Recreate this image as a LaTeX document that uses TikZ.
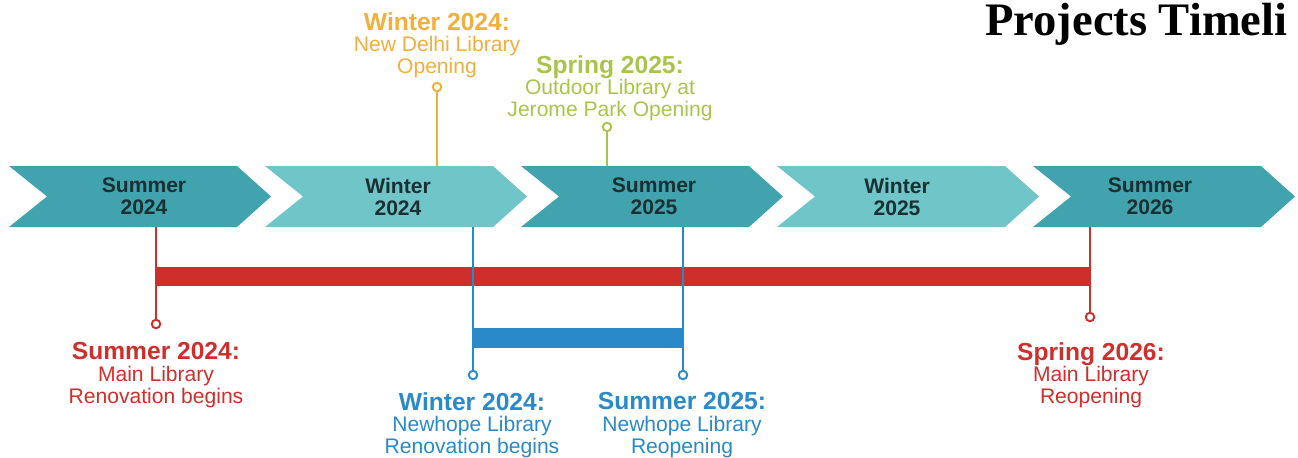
\documentclass[tikz,border=0pt]{standalone}
\usepackage{fontspec}
\setmainfont{Liberation Sans}
\newfontfamily\titlefont{Liberation Serif}
\usepackage{xcolor}
\usetikzlibrary{positioning}
\definecolor{tealdark}{HTML}{40A3AE}
\definecolor{teallight}{HTML}{70C5C8}
\definecolor{seasontext}{HTML}{1B3033}
\definecolor{mainred}{HTML}{CF2F2C}
\definecolor{newblue}{HTML}{2A89C9}
\definecolor{delhiorange}{HTML}{F4AE3D}
\definecolor{parkgreen}{HTML}{A8C54A}

\begin{document}
\begin{tikzpicture}[x=0.02cm, y=-0.02cm]
    % Styles
    \tikzstyle{season} = [inner sep=0pt, minimum height=1.22cm, align=center, text=seasontext, font=\fontsize{12}{12.5}\selectfont\bfseries]
    \tikzstyle{pin} = [circle, draw, fill=white, inner sep=0pt, minimum size=0.17cm, line width=1.1pt]
    \tikzstyle{stem} = [line width=1.1pt]
    \tikzstyle{event} = [inner sep=0pt, align=center, font=\fontsize{12}{12.3}\selectfont]

    \useasboundingbox (0,0) rectangle (1298,457);

    % Chevrons
    \fill[tealdark]  (9,166) -- (237,166) -- (271,196.5) -- (237,227) -- (9,227) -- (47,196.5) -- cycle;
    \fill[teallight] (265,166) -- (493,166) -- (527,196.5) -- (493,227) -- (265,227) -- (303,196.5) -- cycle;
    \fill[tealdark]  (521,166) -- (749,166) -- (783,196.5) -- (749,227) -- (521,227) -- (559,196.5) -- cycle;
    \fill[teallight] (777,166) -- (1005,166) -- (1039,196.5) -- (1005,227) -- (777,227) -- (815,196.5) -- cycle;
    \fill[tealdark]  (1033,166) -- (1261,166) -- (1295,196.5) -- (1261,227) -- (1033,227) -- (1071,196.5) -- cycle;

    % Seasons
    \node[season] (sum24) at (144,196.5) {Summer\\2024};
    \node[season] (win24) at (398,196.5) {Winter\\2024};
    \node[season] (sum25) at (654,196.5) {Summer\\2025};
    \node[season] (win25) at (897,196.5) {Winter\\2025};
    \node[season] (sum26) at (1150,196.5) {Summer\\2026};

    % Title
    \node[anchor=base west, inner sep=0pt, font=\titlefont\fontsize{26.5}{26.5}\selectfont\bfseries] (title) at (985,35) {Projects Timeli};

    % Pins
    \node[pin, draw=mainred] (mainstart) at (156,324) {};
    \node[pin, draw=mainred] (mainend) at (1090,317) {};
    \node[pin, draw=newblue] (newstart) at (473,375) {};
    \node[pin, draw=newblue] (newend) at (683,375) {};
    \node[pin, draw=delhiorange] (delhi) at (437,87) {};
    \node[pin, draw=parkgreen] (park) at (607,127) {};

    % Bars
    \coordinate (mainbarL) at (156,276);
    \coordinate (mainbarR) at (1090,276);
    \coordinate (newbarL) at (473,338);
    \coordinate (newbarR) at (683,338);
    \draw[mainred, line width=0.38cm] (mainbarL) -- (mainbarR);
    \draw[newblue, line width=0.4cm] (newbarL) -- (newbarR);

    % Stems
    \draw[stem, mainred] (mainstart) -- (mainstart |- sum24.south);
    \draw[stem, mainred] (mainend) -- (mainend |- sum26.south);
    \draw[stem, newblue] (newstart) -- (newstart |- win24.south);
    \draw[stem, newblue] (newend) -- (newend |- sum25.south);
    \draw[stem, delhiorange] (delhi) -- (delhi |- win24.north);
    \draw[stem, parkgreen] (park) -- (park |- sum25.north);

    % Labels
    \node[event, text=delhiorange] (delhilbl) at (437,45) {{\fontsize{14}{12.3}\selectfont\bfseries Winter 2024:}\\New Delhi Library\\Opening};
    \node[event, text=parkgreen] (parklbl) at (610,88) {{\fontsize{14}{12.3}\selectfont\bfseries Spring 2025:}\\Outdoor Library at\\Jerome Park Opening};
    \node[event, text=mainred] (mainstartlbl) at (156,375) {{\fontsize{14}{12.3}\selectfont\bfseries Summer 2024:}\\Main Library\\Renovation begins};
    \node[event, text=mainred] (mainendlbl) at (1091,375) {{\fontsize{14}{12.3}\selectfont\bfseries Spring 2026:}\\Main Library\\Reopening};
    \node[event, text=newblue] (newstartlbl) at (472,425) {{\fontsize{14}{12.3}\selectfont\bfseries Winter 2024:}\\Newhope Library\\Renovation begins};
    \node[event, text=newblue] (newendlbl) at (682,425) {{\fontsize{14}{12.3}\selectfont\bfseries Summer 2025:}\\Newhope Library\\Reopening};
\end{tikzpicture}
\end{document}
